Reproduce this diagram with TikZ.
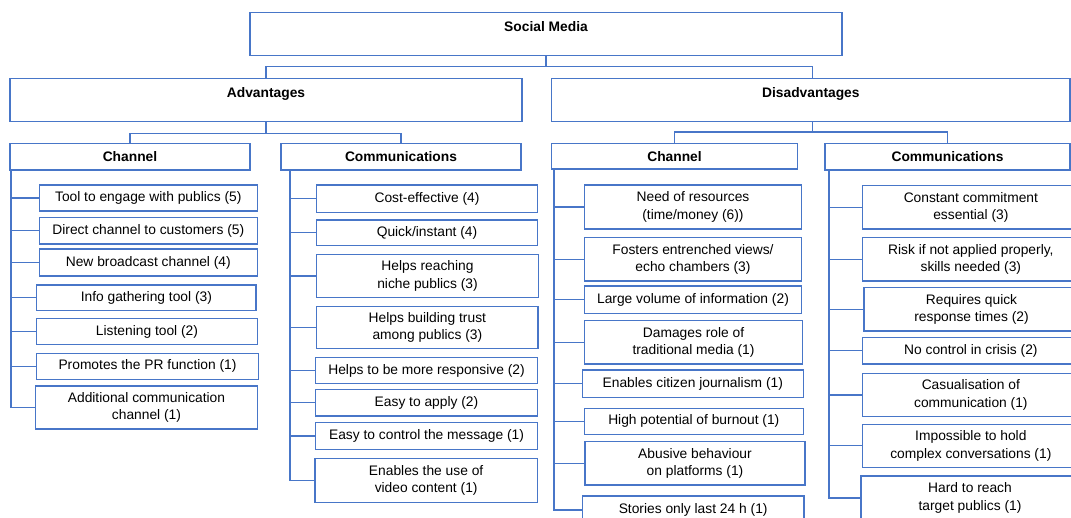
\documentclass[tikz,border=0pt]{standalone}
\usepackage{fontspec}
\setmainfont{Liberation Sans}
\definecolor{lineblue}{RGB}{72,118,200}
\tikzset{
  box/.style={draw=lineblue, line width=1.2pt, fill=white, inner sep=0pt, align=center,
              font=\fontsize{13.8}{17.3}\selectfont},
  headbox/.style={box, font=\bfseries\fontsize{13.8}{17.3}\selectfont},
  tophead/.style={headbox, text height=10pt, text depth=14.5pt},
  link/.style={draw=lineblue, line width=1.2pt}
}
% \bx[style]{name}{x1}{y1}{x2}{y2}{text}: box given by its corner coordinates
\newcommand{\bx}[7][box]{\node[#1, minimum width={#5pt-#3pt}, minimum height={#6pt-#4pt}]
  (#2) at ({(#3+#5)/2},{(#4+#6)/2}) {#7};}
\begin{document}
\begin{tikzpicture}[x=1pt,y=-1pt]
\useasboundingbox[fill=white] (0,0) rectangle (1071,517);

% top levels
\bx[tophead]{sm}{250}{12.7}{842}{55.3}{Social Media}
\bx[tophead]{adv}{10}{78.3}{522}{121.7}{Advantages}
\bx[tophead]{dis}{551.7}{78.3}{1070}{121.7}{Disadvantages}

\bx[headbox]{acH}{10}{143.3}{250}{170}{Channel}
\bx[headbox]{amH}{281}{143.3}{521}{170}{Communications}
\bx[headbox]{dcH}{551.7}{143.3}{797.3}{169}{Channel}
\bx[headbox]{dmH}{825}{143.3}{1070}{170}{Communications}

% advantages: channel
\bx{ac1}{39.3}{185}{257.3}{211}{Tool to engage with publics (5)}
\bx{ac2}{39.3}{217.3}{257.3}{244}{Direct channel to customers (5)}
\bx{ac3}{39.3}{249}{257.3}{276}{New broadcast channel (4)}
\bx{ac4}{36.7}{285}{256}{310.3}{Info gathering tool (3)}
\bx{ac5}{36.7}{318.3}{257.3}{344.7}{Listening tool (2)}
\bx{ac6}{36.7}{353.3}{258.3}{379.3}{Promotes the PR function (1)}
\bx{ac7}{35.7}{386}{257.3}{429}{Additional communication\\channel (1)}

% advantages: communications
\bx{am1}{316.7}{185}{537.3}{212.3}{Cost-effective (4)}
\bx{am2}{316.7}{220}{537.3}{245.7}{Quick/instant (4)}
\bx{am3}{316.7}{254.3}{538.3}{297.7}{Helps reaching\\niche publics (3)}
\bx{am4}{316.7}{306.7}{538}{348.3}{Helps building trust\\among publics (3)}
\bx{am5}{315.7}{357.7}{537.3}{383.3}{Helps to be more responsive (2)}
\bx{am6}{315.7}{389.3}{537.3}{416}{Easy to apply (2)}
\bx{am7}{315.7}{422.7}{537.3}{449.3}{Easy to control the message (1)}
\bx{am8}{315}{458.3}{537.3}{502.3}{Enables the use of\\video content (1)}

% disadvantages: channel
\bx{dc1}{584.3}{185}{801.7}{229}{Need of resources\\(time/money (6))}
\bx{dc2}{584.3}{237.7}{801.7}{281}{Fosters entrenched views/\\echo chambers (3)}
\bx{dc3}{584.3}{286}{801.7}{313.3}{Large volume of information (2)}
\bx{dc4}{584.3}{320.7}{802.7}{364}{Damages role of\\traditional media (1)}
\bx{dc5}{582.3}{370}{803.3}{397.7}{Enables citizen journalism (1)}
\bx{dc6}{584.3}{408.3}{803.3}{434.3}{High potential of burnout (1)}
\bx{dc7}{585}{441.7}{805}{485}{Abusive behaviour\\on platforms (1)}
\bx{dc8}{582.3}{496}{804}{524}{Stories only last 24 h (1)}

% disadvantages: communications
\bx{dm1}{862.7}{185.7}{1079}{229}{Constant commitment\\essential (3)}
\bx{dm2}{862.7}{237.7}{1079}{281}{Risk if not applied properly,\\skills needed (3)}
\bx{dm3}{864}{287.3}{1079}{331}{Requires quick\\response times (2)}
\bx{dm4}{862.7}{337.7}{1079}{364}{No control in crisis (2)}
\bx{dm5}{862.7}{373.3}{1079}{416.7}{Casualisation of\\communication (1)}
\bx{dm6}{862.7}{424.3}{1079}{467.3}{Impossible to hold\\complex conversations (1)}
\bx{dm7}{861}{476}{1079}{520}{Hard to reach\\target publics (1)}

% tree connectors
\coordinate (smJ) at (546,66.5);
\draw[link] (sm.south) -- (smJ);
\draw[link] (adv.north) |- (smJ) -| ([xshift=1.5pt]dis.north);

\coordinate (advJ) at (266,133.3);
\draw[link] (adv.south) -- (advJ);
\draw[link] (acH.north) |- (advJ) -| (amH.north);

\coordinate (disJ) at (812.5,132);
\draw[link] (disJ |- dis.south) -- (disJ);
\draw[link] (dcH.north) |- (disJ) -| (dmH.north);

% spines with branches to each item
\coordinate (acS) at (11,170);
\draw[link] (acS) |- (ac7.west);
\foreach \i in {1,...,6} \draw[link] (ac\i.west) -- (ac\i.west -| acS);

\coordinate (amS) at (290,170);
\draw[link] (amS) |- (am8.west);
\foreach \i in {1,...,7} \draw[link] (am\i.west) -- (am\i.west -| amS);

\coordinate (dcS) at (554,169);
\draw[link] (dcS) |- (dc8.west);
\foreach \i in {1,...,7} \draw[link] (dc\i.west) -- (dc\i.west -| dcS);

\coordinate (dmS) at (829,170);
\draw[link] (dmS) |- (dm7.west);
\foreach \i in {1,...,6} \draw[link] (dm\i.west) -- (dm\i.west -| dmS);
\end{tikzpicture}
\end{document}
